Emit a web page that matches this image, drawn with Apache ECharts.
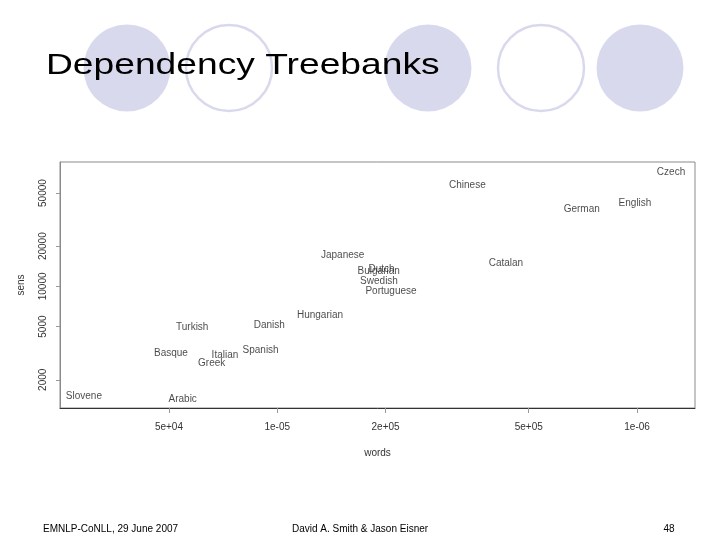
<!DOCTYPE html>
<html>
<head>
<meta charset="utf-8">
<script src="https://cdn.jsdelivr.net/npm/echarts@6/dist/echarts.min.js"></script>
<style>
html,body{margin:0;padding:0;background:#fff;}
#chart{width:720px;height:540px;}
</style>
</head>
<body>
<div id="chart"></div>
<script>
// Treebank sizes
const languages = ['Arabic','Basque','Bulgarian','Catalan','Chinese','Czech','Danish','Dutch','English','German','Greek','Hungarian','Italian','Japanese','Portuguese','Slovene','Spanish','Swedish','Turkish'];
const words = [54600, 50650, 191400, 432000, 337600, 1243000, 95000, 195000, 987000, 702000, 65720, 131500, 71560, 152000, 207100, 29020, 89900, 191800, 58030];
const sents = [1435, 3160, 12920, 14840, 57020, 71360, 5123, 13530, 42070, 37930, 2640, 6045, 3051, 17030, 9150, 1494, 3344, 10870, 4947];

const xTickValues = [5e4, 1e5, 2e5, 5e5, 1e6];
const xTickLabels = ['5e+04', '1e-05', '2e+05', '5e+05', '1e-06'];
const yTickValues = [2000, 5000, 10000, 20000, 50000];
const yTickLabels = ['2000', '5000', '10000', '20000', '50000'];

const xRange = [24900, 1449000];
const yRange = [1229, 85400];

const FONT = '"Liberation Sans", Arial, sans-serif';
const lg = Math.log10;

function fmt(values, labels) {
  return function (v) {
    for (let i = 0; i < values.length; i++) {
      if (Math.abs(lg(values[i]) - v) < 1e-6) return labels[i];
    }
    return '';
  };
}

const points = languages.map((name, i) => ({ name: name, value: [lg(words[i]), lg(sents[i])] }));

const chart = echarts.init(document.getElementById('chart'), null, { renderer: 'canvas' });
const lav = '#d9d9ee';
chart.setOption({
  animation: false,
  backgroundColor: '#ffffff',
  graphic: [
    { type: 'circle', z: 0, shape: { cx: 127, cy: 68, r: 43.5 }, style: { fill: lav } },
    { type: 'circle', z: 0, shape: { cx: 229, cy: 68, r: 43 }, style: { fill: 'none', stroke: lav, lineWidth: 2.5 } },
    { type: 'circle', z: 0, shape: { cx: 428, cy: 68, r: 43.5 }, style: { fill: lav } },
    { type: 'circle', z: 0, shape: { cx: 541, cy: 68, r: 43 }, style: { fill: 'none', stroke: lav, lineWidth: 2.5 } },
    { type: 'circle', z: 0, shape: { cx: 640, cy: 68, r: 43.5 }, style: { fill: lav } },
    { type: 'text', z: 10, x: 46, y: 66, scaleX: 1.24, style: { text: 'Dependency Treebanks', font: '30px ' + FONT, fill: '#000', verticalAlign: 'middle', align: 'left' } },
    { type: 'text', z: 10, x: 43, y: 529, style: { text: 'EMNLP-CoNLL, 29 June 2007', font: '10px ' + FONT, fill: '#000', verticalAlign: 'middle', align: 'left' } },
    { type: 'text', z: 10, x: 360, y: 529, style: { text: 'David A. Smith & Jason Eisner', font: '10px ' + FONT, fill: '#000', verticalAlign: 'middle', align: 'center' } },
    { type: 'text', z: 10, x: 669, y: 529, style: { text: '48', font: '10px ' + FONT, fill: '#000', verticalAlign: 'middle', align: 'center' } }
  ],
  grid: { left: 60, right: 25, top: 162, bottom: 132, show: true, borderColor: '#8a8a8a', borderWidth: 1, backgroundColor: 'transparent' },
  xAxis: {
    type: 'value',
    min: lg(xRange[0]), max: lg(xRange[1]),
    name: 'words', nameLocation: 'middle', nameGap: 40,
    nameTextStyle: { fontFamily: FONT, fontSize: 10, color: '#333' },
    splitLine: { show: false },
    axisLine: { show: true, onZero: false, lineStyle: { color: '#333', width: 1 } },
    axisTick: { show: true, length: 5, lineStyle: { color: '#999' }, customValues: xTickValues.map(lg) },
    axisLabel: { show: true, margin: 14, fontFamily: FONT, fontSize: 10, color: '#333', customValues: xTickValues.map(lg), formatter: fmt(xTickValues, xTickLabels) }
  },
  yAxis: {
    type: 'value',
    min: lg(yRange[0]), max: lg(yRange[1]),
    name: 'sens', nameLocation: 'middle', nameGap: 34, nameRotate: 90,
    nameTextStyle: { fontFamily: FONT, fontSize: 10, color: '#333' },
    splitLine: { show: false },
    axisLine: { show: true, onZero: false, lineStyle: { color: '#8a8a8a', width: 1 } },
    axisTick: { show: true, length: 4, lineStyle: { color: '#999' }, customValues: yTickValues.map(lg) },
    axisLabel: { show: true, rotate: 90, margin: 12, fontFamily: FONT, fontSize: 10, color: '#333', customValues: yTickValues.map(lg), formatter: fmt(yTickValues, yTickLabels) }
  },
  series: [{
    type: 'scatter',
    silent: true,
    symbolSize: 1,
    itemStyle: { color: 'rgba(0,0,0,0)' },
    label: { show: true, position: 'inside', formatter: '{b}', fontFamily: FONT, fontSize: 10, color: '#1a1a1a' },
    emphasis: { disabled: true },
    data: points
  }]
});
</script>
</body>
</html>
